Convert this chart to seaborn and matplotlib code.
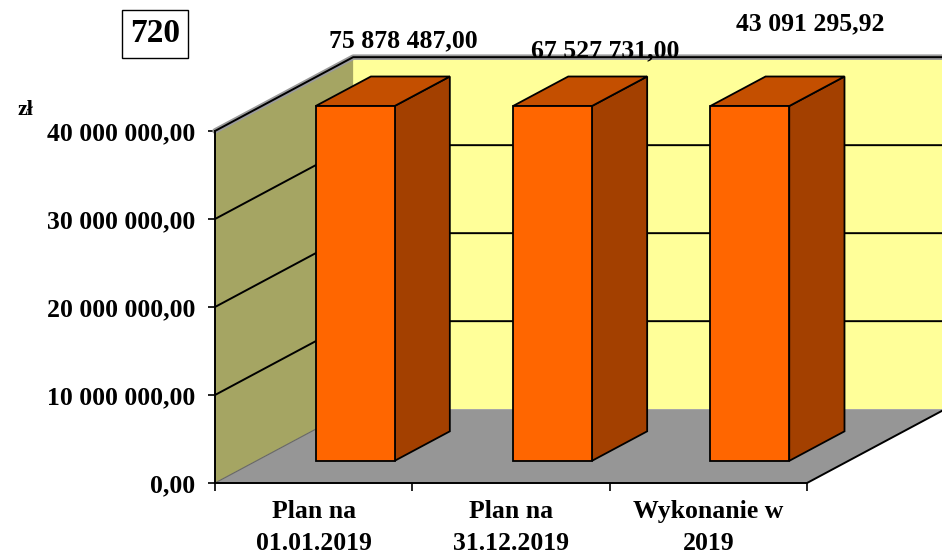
import matplotlib
matplotlib.use("Agg")
import matplotlib.pyplot as plt
from matplotlib.patches import Polygon
from matplotlib.ticker import FuncFormatter
import numpy as np
import seaborn as sns


# data
categories = ["Plan na\n01.01.2019", "Plan na\n31.12.2019", "Wykonanie w\n2019"]
values = [75878487.00, 67527731.00, 43091295.92]
value_labels = ["75 878 487,00", "67 527 731,00", "43 091 295,92"]
y_ticks = [0, 10_000_000, 20_000_000, 30_000_000, 40_000_000]
chart_code = "720"
unit = "zł"

YMAX = 40_000_000
DX, DY = 0.70, 8_390_000          # depth of the 3D box in data units
BAR_FROM, BAR_TO = 0.30, 0.70     # bar depth inside the box
BAR_W = 0.40

sns.set_theme(style="white")
plt.rcParams["font.family"] = ["Liberation Serif", "DejaVu Serif"]
plt.rcParams["font.weight"] = "bold"
for key in ["text.color", "xtick.color", "ytick.color", "axes.labelcolor"]:
    plt.rcParams[key] = "black"

fig = plt.figure(figsize=(9.42, 5.53), dpi=100)
ax = fig.add_axes([215 / 942, 1 - 483 / 553, 592 / 942, 352 / 553])
ax.patch.set_alpha(0)

n = len(categories)
x_lo, x_hi = -0.5, n - 0.5


def poly(pts, fc, ec="none", lw=0.0, z=1):
    ax.add_patch(Polygon(pts, closed=True, facecolor=fc, edgecolor=ec,
                         linewidth=lw, clip_on=False, zorder=z))


# back wall, floor, left wall
poly([(x_lo + DX, DY), (x_hi + DX, DY), (x_hi + DX, YMAX + DY), (x_lo + DX, YMAX + DY)], "#FFFF99", z=1)
poly([(x_lo, 0), (x_hi, 0), (x_hi + DX, DY), (x_lo + DX, DY)], "#969696", z=2)
poly([(x_lo, 0), (x_lo + DX, DY), (x_lo + DX, YMAX + DY), (x_lo, YMAX)], "#A5A563", z=2)

# gridlines on the walls
for t in y_ticks[1:-1]:
    ax.plot([x_lo, x_lo + DX, x_hi + DX], [t, t + DY, t + DY], color="black", lw=1.4,
            clip_on=False, zorder=3, solid_capstyle="butt")
# top edges of the walls (with grey shadow)
ax.plot([x_lo, x_lo + DX, x_hi + DX], [YMAX, YMAX + DY, YMAX + DY], color="#9a9a9a", lw=4,
        clip_on=False, zorder=3)
ax.plot([x_lo, x_lo + DX, x_hi + DX], [YMAX, YMAX + DY, YMAX + DY], color="black", lw=1.4,
        clip_on=False, zorder=3)
ax.plot([x_lo, x_lo + DX], [0, DY], color="#666666", lw=0.8, clip_on=False, zorder=3)
# front and right floor edges
ax.plot([x_lo, x_hi, x_hi + DX], [0, 0, DY], color="black", lw=1.4, clip_on=False, zorder=3)

# bars (front faces) through seaborn, clipped near the axis maximum like the original
shown = np.minimum(values, YMAX * 1.008)
sns.barplot(x=categories, y=shown, width=BAR_W, color="#FF6600", saturation=1,
            edgecolor="black", linewidth=1.3, ax=ax, zorder=6)

bdx = (BAR_TO - BAR_FROM) * DX
bdy = (BAR_TO - BAR_FROM) * DY
for p in ax.patches:
    if isinstance(p, Polygon):
        continue
    p.set_x(p.get_x() + BAR_FROM * DX)
    p.set_y(BAR_FROM * DY)
    p.set_clip_on(False)
    x0, x1 = p.get_x(), p.get_x() + p.get_width()
    y0, y1 = p.get_y(), p.get_y() + p.get_height()
    poly([(x1, y0), (x1 + bdx, y0 + bdy), (x1 + bdx, y1 + bdy), (x1, y1)],
         "#A34000", ec="black", lw=1.3, z=5)
    poly([(x0, y1), (x1, y1), (x1 + bdx, y1 + bdy), (x0 + bdx, y1 + bdy)],
         "#C44F00", ec="black", lw=1.3, z=5)

# value labels
label_pos = [(0.453, 50.2e6), (1.477, 49.1e6), (2.516, 52.2e6)]
for (lx, ly), txt in zip(label_pos, value_labels):
    ax.text(lx, ly, txt, ha="center", va="center", fontsize=18.5, fontweight="bold",
            clip_on=False, zorder=10)

# axes
ax.set_xlim(x_lo, x_hi)
ax.set_ylim(0, YMAX)
ax.set_yticks(y_ticks)
ax.yaxis.set_major_formatter(FuncFormatter(
    lambda v, _: f"{v:,.2f}".replace(",", " ").replace(".", ",")))
ax.set_xticks(range(n))
ax.set_xticklabels(categories, linespacing=1.5)
ax.set_xticks(np.arange(x_lo, x_hi + 0.01, 1.0), minor=True)
ax.tick_params(axis="y", which="major", direction="out", length=5, width=1.2,
               color="black", labelsize=18.5, pad=9, left=True)
ax.tick_params(axis="x", which="major", length=0, labelsize=18.5, pad=12)
ax.tick_params(axis="x", which="minor", direction="out", length=6, width=1.2,
               color="black", bottom=True)
for lab in ax.get_xticklabels() + ax.get_yticklabels():
    lab.set_fontweight("bold")
for side in ["top", "right"]:
    ax.spines[side].set_visible(False)
ax.spines["left"].set_color("black")
ax.spines["left"].set_linewidth(1.4)
ax.spines["left"].set_zorder(4)
ax.spines["bottom"].set_visible(False)
ax.set_xlabel("")
ax.set_ylabel("")

fig.text(25 / 942, 1 - 110 / 553, unit, ha="center", va="center", fontsize=16, fontweight="bold")
fig.text(155 / 942, 1 - 34 / 553, chart_code, ha="center", va="center", fontsize=24,
         fontweight="bold",
         bbox=dict(boxstyle="square,pad=0.25", facecolor="white", edgecolor="black", linewidth=1))

fig.savefig("out.png", dpi=100)
